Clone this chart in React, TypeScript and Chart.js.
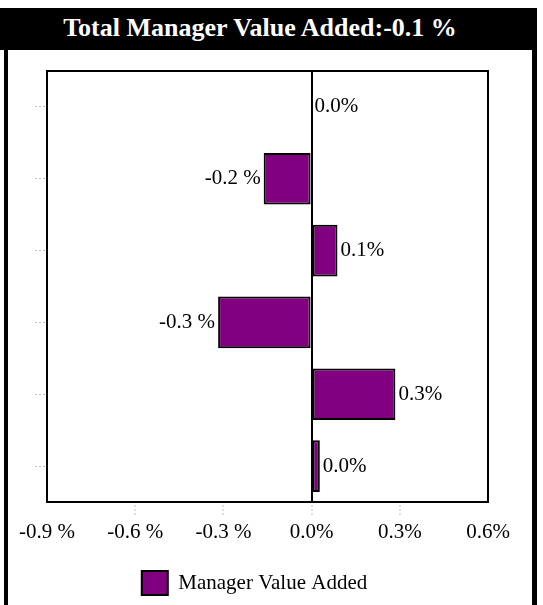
import React, { useEffect, useRef } from 'react';
import { Chart, registerables } from 'chart.js';

Chart.register(...registerables);

const titleText = 'Total Manager Value Added:-0.1 %';
const seriesLabel = 'Manager Value Added';
const categories = ['Segment 1', 'Segment 2', 'Segment 3', 'Segment 4', 'Segment 5', 'Segment 6'];
const managerValueAdded = [0.0, -0.163, 0.088, -0.318, 0.285, 0.028];
const xTickValues = [-0.9, -0.6, -0.3, 0, 0.3, 0.6];
const xTickLabels = ['-0.9 %', '-0.6 %', '-0.3 %', '0.0%', '0.3%', '0.6%'];

const FONT = "'Liberation Serif', 'Times New Roman', serif";

const fmt = (v: number) => (v < 0 ? `${v.toFixed(1)} %` : `${v.toFixed(1)}%`);

const framePlugin = {
  id: 'frame',
  afterDraw(chart: any) {
    const { ctx, chartArea } = chart;
    ctx.save();
    ctx.strokeStyle = '#000';
    ctx.lineWidth = 2;
    ctx.strokeRect(chartArea.left, chartArea.top, chartArea.right - chartArea.left, chartArea.bottom - chartArea.top);
    ctx.restore();
  },
};

const valueLabelPlugin = {
  id: 'valueLabels',
  afterDatasetsDraw(chart: any) {
    const { ctx } = chart;
    const meta = chart.getDatasetMeta(0);
    const data = chart.data.datasets[0].data as number[];
    ctx.save();
    ctx.font = `21px ${FONT}`;
    ctx.fillStyle = '#000';
    ctx.textBaseline = 'middle';
    meta.data.forEach((el: any, i: number) => {
      const v = data[i];
      const { x, y } = el.getProps(['x', 'y'], true);
      if (v < 0) {
        ctx.textAlign = 'right';
        ctx.fillText(fmt(v), x - 3, y);
      } else {
        ctx.textAlign = 'left';
        ctx.fillText(fmt(v), x + 3, y);
      }
    });
    ctx.restore();
  },
};

function BarChart() {
  const ref = useRef<HTMLCanvasElement | null>(null);
  useEffect(() => {
    if (!ref.current) return;
    const chart = new Chart(ref.current, {
      type: 'bar',
      data: {
        labels: categories,
        datasets: [
          {
            label: seriesLabel,
            data: managerValueAdded,
            backgroundColor: '#800080',
            borderColor: '#000',
            borderWidth: 2,
            borderSkipped: false,
          },
        ],
      },
      options: {
        animation: false,
        responsive: true,
        maintainAspectRatio: false,
        indexAxis: 'y',
        layout: { padding: { left: 13, right: 44, top: 21, bottom: 0 } },
        scales: {
          x: {
            type: 'linear',
            min: -0.9,
            max: 0.6,
            afterBuildTicks: (s: any) => {
              s.ticks = xTickValues.map((value) => ({ value }));
            },
            afterFit: (s: any) => {
              s.height = 59;
            },
            border: { display: false },
            grid: {
              drawOnChartArea: true,
              color: (c: any) => (c.tick && Math.abs(c.tick.value) < 1e-9 ? '#000' : 'rgba(0,0,0,0)'),
              lineWidth: 2,
              drawTicks: true,
              tickLength: 13,
              tickColor: (c: any) =>
                c.index === 0 || c.index === xTickValues.length - 1 ? 'rgba(0,0,0,0)' : '#c0c0c0',
              tickWidth: 1,
              tickBorderDash: [2, 2],
              tickBorderDashOffset: 1,
            },
            ticks: {
              callback: (_v: any, i: number) => xTickLabels[i],
              color: '#000',
              font: { family: FONT, size: 21 },
              padding: 5,
              maxRotation: 0,
              autoSkip: false,
            },
          },
          y: {
            type: 'category',
            offset: true,
            afterFit: (s: any) => {
              s.width = 26;
            },
            border: { display: false },
            grid: {
              offset: false,
              drawOnChartArea: false,
              drawTicks: true,
              tickLength: 12,
              color: 'rgba(0,0,0,0)',
              tickColor: '#c0c0c0',
              tickWidth: 1,
              tickBorderDash: [2, 2],
            },
            ticks: { display: false },
          },
        },
        plugins: {
          legend: {
            position: 'bottom',
            labels: {
              boxWidth: 26,
              boxHeight: 24,
              color: '#000',
              font: { family: FONT, size: 21 },
              padding: 10,
            },
          },
          title: { display: false },
          tooltip: { enabled: false },
        },
      } as any,
      plugins: [framePlugin, valueLabelPlugin],
    });
    return () => chart.destroy();
  }, []);
  return <canvas ref={ref} />;
}

export default function App() {
  return (
    <div style={{ position: 'absolute', left: 0, top: 8, width: 537 }}>
      <div
        style={{
          height: 42,
          background: '#000',
          color: '#fff',
          fontFamily: FONT,
          fontWeight: 'bold',
          fontSize: 26,
          lineHeight: '40px',
          textAlign: 'center',
          paddingRight: 17,
          boxSizing: 'border-box',
          whiteSpace: 'nowrap',
        }}
      >
        {titleText}
      </div>
      <div
        style={{
          marginLeft: 4,
          borderLeft: '4px solid #000',
          borderRight: '5px solid #000',
          width: 524,
          height: 555,
          position: 'relative',
          background: '#fff',
        }}
      >
        <BarChart />
      </div>
    </div>
  );
}
